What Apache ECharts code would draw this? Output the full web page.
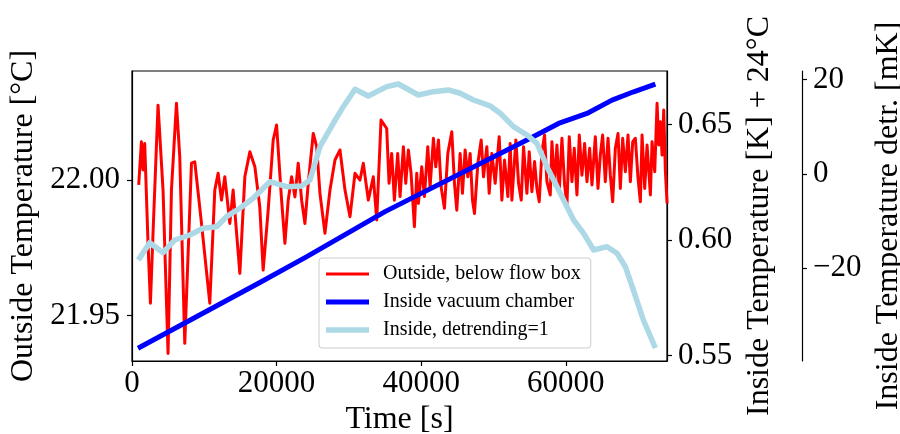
<!DOCTYPE html>
<html>
<head>
<meta charset="utf-8">
<script src="https://cdn.jsdelivr.net/npm/echarts@6.0.0/dist/echarts.min.js"></script>
<style>
  html, body { margin: 0; padding: 0; background: #fff; }
  #main { width: 900px; height: 434px; }
</style>
</head>
<body>
<div id="main"></div>
<script>
// outside sensor, below flow box [degC]
const timeOutside = [
  928, 1302, 1524, 1759, 2216, 2548, 2909, 3601, 4294, 4986, 5457, 6149, 6606, 7299,
  8227, 8684, 9612, 10761, 11454, 11911, 12382, 12839, 13531, 13989, 14916, 15609, 16301, 16994,
  17674, 18143, 18836, 19529, 19999, 20692, 21149, 21606, 22077, 22534, 22991, 23462, 23919, 24376,
  25069, 25540, 25997, 26690, 27382, 28075, 28767, 29460, 30152, 30845, 31537, 31994, 32686, 33379,
  33850, 34445,
  35230, 35553, 35922, 36292, 36753, 37077, 37538, 37862, 38231, 38600, 39062, 39385, 39616, 40078,
  40447, 40909, 41232, 41694, 42017, 42386, 42756, 43217, 43679, 44233, 44602, 44926, 45387, 45710,
  46080, 46449, 46772, 47096, 47373, 47834, 48296, 48619, 49081, 49404, 49773, 50235, 50789, 51159,
  51528, 51990, 52313, 52544, 53098, 53467, 53837, 54160, 54622,
  54943, 55312, 55682, 56005, 56328, 56698, 57067, 57390, 57852, 58083, 58452, 58775, 59098, 59468,
  59837, 60160, 60483, 60853, 61176, 61545, 61869, 62238, 62607, 62930, 63300, 63623, 64085, 64454,
  64777, 65100, 65470, 65839, 66162, 66486, 66855, 67224, 67547, 67871, 68240, 68609, 68932, 69256,
  69625, 69994, 70318, 70549, 70918, 71241, 71703, 71934, 72303, 72626, 72857, 73088, 73320, 73550,
  73781, 74012
];
const tempOutside = [
  21.9982, 22.0141, 22.0037, 22.0135, 21.9767, 21.9546, 21.9804, 22.0276, 21.9963, 21.9361, 21.9963, 22.0283, 22.0086, 21.9398,
  22.0062, 22.0067, 21.9840, 21.9546, 21.9963, 22.0025, 21.9926, 22.0012, 21.9840, 21.9963, 21.9656, 22.0012, 22.0104, 22.0049,
  21.9902, 21.9668, 21.9889, 22.0147, 22.0203, 21.9926, 21.9767, 21.9926, 22.0012, 21.9938, 22.0062, 21.9926, 21.9840, 21.9988,
  22.0172, 22.0123, 21.9951, 21.9804, 21.9963, 22.0074, 22.0111, 21.9963, 21.9865, 22.0025, 22.0000, 22.0062, 21.9926, 22.0012,
  21.9853, 22.0221,
  22.0190, 21.9988, 22.0098, 21.9926, 22.0098, 21.9939, 22.0123, 21.9988, 22.0111, 22.0025, 21.9828, 22.0025, 21.9914, 22.0049,
  21.9939, 22.0123, 21.9975, 22.0154, 22.0049, 22.0148, 21.9975, 21.9896, 22.0098, 22.0178, 21.9988, 21.9889, 22.0098, 21.9951,
  22.0111, 22.0012, 22.0098, 21.9926, 21.9877, 22.0061, 22.0148, 22.0012, 22.0123, 21.9951, 22.0098, 21.9988, 22.0160, 21.9926,
  22.0074, 21.9939, 22.0135, 21.9926, 22.0148, 21.9988, 21.9926, 22.0123, 21.9951,
  22.0104, 21.9957, 22.0068, 21.9969, 21.9920, 22.0104, 22.0166, 21.9994, 21.9945, 22.0141, 21.9982, 22.0129, 21.9957, 22.0154,
  21.9982, 21.9908, 22.0160, 21.9994, 22.0117, 21.9945, 22.0166, 22.0018, 22.0135, 21.9994, 22.0117, 21.9982, 22.0160, 21.9969,
  22.0092, 22.0166, 21.9994, 22.0154, 22.0018, 21.9920, 22.0117, 22.0172, 21.9969, 22.0154, 22.0031, 22.0166, 21.9994, 22.0141,
  22.0154, 22.0006, 21.9920, 22.0166, 21.9969, 22.0129, 21.9945, 22.0141, 22.0031, 22.0283, 22.0129, 22.0215, 22.0092, 22.0258,
  22.0031, 21.9914
];

// inside vacuum chamber [K] + 24 degC
const timeInside = [831, 17687, 24058, 34999, 54623, 59001, 62933, 66396, 69387, 72394];
const tempInside = [0.5531, 0.5816, 0.5926, 0.6123, 0.6433, 0.6505, 0.6548, 0.6606, 0.6642, 0.6675];

// inside, detrended [mK]
const timeDetr = [
  873, 2451, 4294, 5914, 7991, 9834, 11689, 13074, 14916, 16758, 19071, 21384, 23462, 24612,
  25997, 27839, 29224, 30845, 32686, 35234, 36841, 39611, 41689, 43766, 45386, 47228, 49541, 50926,
  52769, 54624, 56009, 57394, 59236, 61078, 62463, 63848, 65704, 67089, 68239, 69347, 70732, 72394
];
const tempDetr = [
  -18.23, -14.56, -16.68, -13.99, -12.93, -11.51, -11.17, -9.05, -7.27, -5.15, -1.63, -2.69, -2.54, -1.27,
  5.79, 10.75, 14.27, 17.96, 16.53, 18.51, 19.08, 16.75, 17.45, 17.81, 17.11, 15.69, 14.42, 12.87,
  10.03, 8.27, 6.51, 1.55, -4.09, -9.75, -12.57, -16.11, -15.41, -16.81, -19.65, -24.59, -30.95, -36.88
];

const timeTicks = [0, 20000, 40000, 60000];
const outsideTicks = [21.95, 22.00];
const insideTicks = [0.55, 0.60, 0.65];
const detrTicks = [-20, 0, 20];

const FONT = 'Liberation Serif';

function pairs(xs, ys) {
  return xs.map((x, i) => [x, ys[i]]);
}

function minus(v) {
  return v < 0 ? '\u2212' + Math.abs(v) : String(v);
}

var chart = echarts.init(document.getElementById('main'), null, { renderer: 'canvas' });

var axisCommon = {
  axisLine: { show: true, onZero: false, lineStyle: { color: '#000', width: 1.2 } },
  axisTick: { show: true, length: 5, lineStyle: { color: '#000', width: 1.2 } },
  splitLine: { show: false },
  nameLocation: 'middle',
  nameTextStyle: { fontFamily: FONT, fontSize: 32, color: '#000' }
};

var option = {
  animation: false,
  backgroundColor: '#fff',
  grid: {
    left: 132, right: 233, top: 71, bottom: 73,
    outerBoundsMode: 'none',
    containLabel: false,
    show: true, borderColor: '#000', borderWidth: 1.2, backgroundColor: 'transparent'
  },
  legend: {
    orient: 'vertical',
    left: 319, top: 258,
    padding: [6, 10, 8, 7],
    itemGap: 8,
    itemWidth: 43,
    itemHeight: 20,
    backgroundColor: 'rgba(255,255,255,0.8)',
    borderColor: '#cccccc',
    borderWidth: 1,
    borderRadius: 3,
    textStyle: { fontFamily: FONT, fontSize: 20, color: '#000', padding: [0, 0, 0, 9] },
    data: [
      { name: 'Outside, below flow box', icon: 'path://M0,0L43,0L43,3L0,3Z' },
      { name: 'Inside vacuum chamber', icon: 'path://M0,0L43,0L43,5L0,5Z' },
      { name: 'Inside, detrending=1', icon: 'path://M0,0L43,0L43,5.5L0,5.5Z' }
    ]
  },
  xAxis: Object.assign({}, axisCommon, {
    type: 'value',
    min: 0, max: 74000,
    name: 'Time [s]',
    nameGap: 43,
    axisTick: Object.assign({}, axisCommon.axisTick, { customValues: timeTicks }),
    axisLabel: {
      customValues: timeTicks, margin: 7,
      fontFamily: FONT, fontSize: 31, color: '#000',
      formatter: v => String(v)
    }
  }),
  yAxis: [
    Object.assign({}, axisCommon, {
      type: 'value', position: 'left',
      min: 21.9333, max: 22.0402,
      name: 'Outside Temperature [\u00b0C]',
      nameGap: 88,
      axisTick: Object.assign({}, axisCommon.axisTick, { customValues: outsideTicks }),
      axisLabel: {
        customValues: outsideTicks, margin: 12,
        fontFamily: FONT, fontSize: 31, color: '#000',
        formatter: v => v.toFixed(2)
      }
    }),
    Object.assign({}, axisCommon, {
      type: 'value', position: 'right',
      min: 0.5476, max: 0.6732,
      name: 'Inside Temperature [K] + 24\u00b0C',
      nameGap: 67,
      axisTick: Object.assign({}, axisCommon.axisTick, { customValues: insideTicks }),
      axisLabel: {
        customValues: insideTicks, margin: 11,
        fontFamily: FONT, fontSize: 31, color: '#000',
        formatter: v => v.toFixed(2)
      }
    }),
    Object.assign({}, axisCommon, {
      type: 'value', position: 'right', offset: 135,
      min: -39.64, max: 21.83,
      name: 'Inside Temperature detr. [mK]',
      nameGap: 58,
      axisTick: Object.assign({}, axisCommon.axisTick, { customValues: detrTicks }),
      axisLabel: {
        customValues: detrTicks, margin: 11,
        fontFamily: FONT, fontSize: 31, color: '#000',
        formatter: v => minus(Math.round(v))
      }
    })
  ],
  series: [
    {
      name: 'Outside, below flow box',
      type: 'line', yAxisIndex: 0,
      symbol: 'none',
      data: pairs(timeOutside, tempOutside),
      itemStyle: { color: '#ff0000' },
      lineStyle: { color: '#ff0000', width: 3, join: 'round' }
    },
    {
      name: 'Inside vacuum chamber',
      type: 'line', yAxisIndex: 1,
      symbol: 'none',
      data: pairs(timeInside, tempInside),
      itemStyle: { color: '#0000ff' },
      lineStyle: { color: '#0000ff', width: 5, join: 'round' }
    },
    {
      name: 'Inside, detrending=1',
      type: 'line', yAxisIndex: 2,
      symbol: 'none',
      data: pairs(timeDetr, tempDetr),
      itemStyle: { color: '#add8e6' },
      lineStyle: { color: '#add8e6', width: 5.5, join: 'round' }
    }
  ]
};

chart.setOption(option);
</script>
</body>
</html>
